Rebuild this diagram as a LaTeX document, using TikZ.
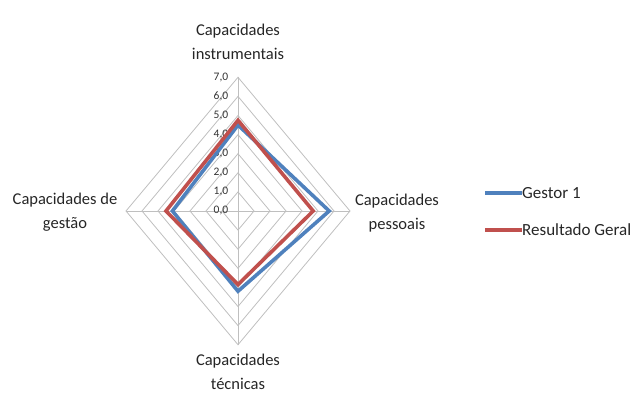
\documentclass[tikz,border=0pt]{standalone}
\usepackage{fontspec}
\setmainfont{Carlito}
\definecolor{gridgray}{RGB}{191,191,191}
\definecolor{gestorblue}{RGB}{79,129,189}
\definecolor{geralred}{RGB}{192,80,77}
\tikzset{
  gridline/.style={draw=gridgray, line width=0.8pt},
  axislabel/.style={align=center, font=\fontsize{16.5}{24}\selectfont, text=black!85},
  ticklabel/.style={anchor=east, font=\fontsize{11.5}{12}\selectfont, inner sep=0pt, text=black!80},
  legendtext/.style={anchor=west, font=\fontsize{17}{20}\selectfont, inner sep=0pt, text=black!85},
  serie/.style={line width=3.6pt, line join=miter},
}
\begin{document}
\begin{tikzpicture}[x=1pt, y=-1pt]
        \useasboundingbox (0,0) rectangle (635,396);
        \begin{scope}[shift={(238,211)}, x=16pt, y=19.1pt]
            % grid
            \foreach \r in {1,...,7}
                \draw[gridline] (0,\r) -- (\r,0) -- (0,-\r) -- (-\r,0) -- cycle;
            \coordinate (top) at (0,7);
            \coordinate (bottom) at (0,-7);
            \coordinate (left) at (-7,0);
            \coordinate (right) at (7,0);
            \draw[gridline] (top) -- (bottom);
            \draw[gridline] (left) -- (right);
            \foreach \r in {0,...,7}
                \node[ticklabel] (tick\r) at (-0.6,\r) {\r,0};
            % data
            \draw[serie, gestorblue] (0,4.5) -- (5.7,0) -- (0,-4.2) -- (-4.1,0) -- cycle;
            \draw[serie, geralred] (0,4.75) -- (4.7,0) -- (0,-3.85) -- (-4.5,0) -- cycle;
        \end{scope}
        \node[axislabel] (instrumentais) at (238,42) {Capacidades\\instrumentais};
        \node[axislabel] (pessoais) at (397,213) {Capacidades\\pessoais};
        \node[axislabel] (gestao) at (65,212) {Capacidades de\\gestão};
        \node[axislabel] (tecnicas) at (238,372) {Capacidades\\técnicas};
        % legend
        \coordinate (gestor-start) at (485,193);
        \node[legendtext] (gestor) at (522,193) {Gestor 1};
        \draw[gestorblue, line width=3.6pt] (gestor-start) -- (gestor.west);
        \coordinate (geral-start) at (485,230);
        \node[legendtext] (geral) at (522,230) {Resultado Geral};
        \draw[geralred, line width=3.6pt] (geral-start) -- (geral.west);
\end{tikzpicture}
\end{document}
